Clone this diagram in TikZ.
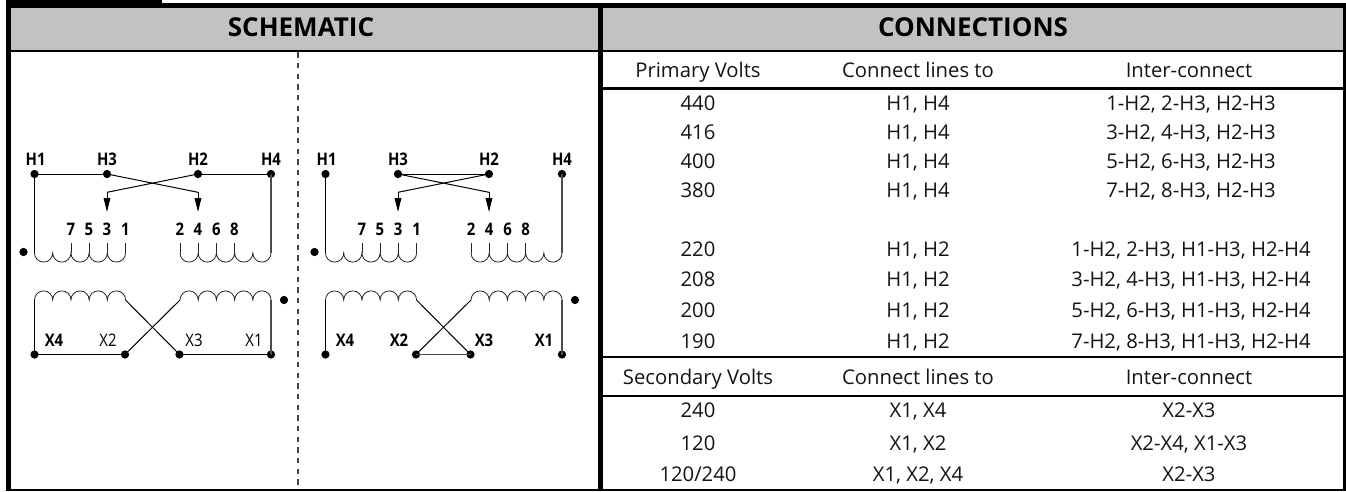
\documentclass[tikz,border=0pt]{standalone}
\usepackage{fontspec}
\setmainfont{Open Sans}
\newfontfamily\labfont[FakeStretch=0.86]{Open Sans}
\usetikzlibrary{arrows.meta}
\tikzset{
  wire/.style={line width=0.75pt,black},
  coil/.style={line width=0.6pt,black!85},
  feed/.style={wire,-{Triangle[length=10.5pt,width=5pt]}},
  term/.style={circle,fill=black,inner sep=0pt,minimum size=6.2pt},
  polarity/.style={circle,fill=black,inner sep=0pt,minimum size=6.2pt},
  lab/.style={anchor=base,inner sep=0pt,font=\fontsize{13}{13}\selectfont\labfont\bfseries},
  labr/.style={anchor=base,inner sep=0pt,font=\fontsize{13}{13}\selectfont\labfont},
  cell/.style={anchor=base,inner sep=0pt,font=\fontsize{15.2}{16}\selectfont,text=black!92},
  head/.style={anchor=base,inner sep=0pt,font=\fontsize{19.5}{20}\selectfont\bfseries},
  rule/.style={fill=black,draw=none},
}
\newcommand{\coilrun}[3]{% start x, y, end angle
  \draw[coil] (#1,#2) arc[start angle=180,end angle=#3,radius=6.83pt]
    arc[start angle=180,end angle=#3,radius=6.83pt]
    arc[start angle=180,end angle=#3,radius=6.83pt]
    arc[start angle=180,end angle=#3,radius=6.83pt]
    arc[start angle=180,end angle=#3,radius=6.83pt];}
\newcommand{\schemcommon}{%
  \node[term] (H1) at (34.5,174) {};
  \node[term] (H3) at (107,174) {};
  \node[term] (H2) at (198,174) {};
  \node[term] (H4) at (271,174) {};
  \node[lab] (lH1) at (35.7,165.5) {H1};
  \node[lab] (lH3) at (107,165.5) {H3};
  \node[lab] (lH2) at (198,165.5) {H2};
  \node[lab] (lH4) at (271,165.5) {H4};
  \coordinate (a3) at (107,192.3);
  \coordinate (a4) at (198,192.3);
  \coordinate (t3) at (107,212);
  \coordinate (t4) at (198,212);
  \draw[wire] (H3.center) -- (a4);
  \draw[wire] (H2.center) -- (a3);
  \draw[feed] (a3) -- (t3);
  \draw[feed] (a4) -- (t4);
  \foreach \t/\x in {7/71,5/89,3/107,1/125.5,2/180,4/198,6/216.5,8/234.5}
    \node[lab] (n\t) at (\x,235) {\t};
  \coilrun{34.5}{253}{360}
  \coilrun{180}{253}{360}
  \coordinate (k1) at (34.5,253);
  \coordinate (k4) at (271,253);
  \draw[wire] (H1.center) -- (k1);
  \draw[wire,line width=1pt,black!70] (H4.center) -- (k4);
  \foreach \x in {70.9,89.1,107.3,125.5,180,198.2,216.4,234.6}
    \draw[coil] (\x,243) -- (\x,253);
  \node[polarity] (pp) at (23.5,252) {};
  \coilrun{34.5}{300}{0}
  \coilrun{180}{300}{0}
  \node[polarity] (ps) at (284,300) {};
  \coordinate (s4) at (34.5,300);
  \coordinate (s2) at (125.5,300);
  \coordinate (s3) at (180,300);
  \coordinate (s1) at (271,300);
  \node[term] (X4) at (34.5,354.5) {};
  \node[term] (X2) at (125,354.5) {};
  \node[term] (X3) at (179.5,354.5) {};
  \node[term] (X1) at (271,354.5) {};
  \draw[wire] (s4) -- (X4.center);
  \draw[wire,line width=1pt,black!70] (s1) -- (X1.center);
  \draw[wire] (s2) -- (X3.center);
  \draw[wire] (s3) -- (X2.center);
}
\begin{document}
\begin{tikzpicture}[x=0.75pt,y=-0.75pt]
\useasboundingbox (0,0) rectangle (1346,492);
% frame and headers
\fill[black!24] (11,8) rectangle (1343,50);
\fill[rule] (6,0) rectangle (162,8);
\fill[rule] (6,3.5) rectangle (1346,8);
\fill[rule] (6,8) rectangle (11,491);
\fill[rule] (1343,8) rectangle (1346,491);
\fill[rule] (6,489) rectangle (1346,491);
\fill[rule] (11,50) rectangle (1343,52.5);
\fill[rule] (597.5,8) rectangle (602.5,491);
\fill[rule] (602.5,87.5) rectangle (1343,90);
\fill[rule] (602.5,355.5) rectangle (1343,358);
\fill[rule] (602.5,394.5) rectangle (1343,397);
\coordinate (dtop) at (297.7,52.5);
\coordinate (dbot) at (297.7,489);
\draw[line width=1.5pt,black!75,dash pattern=on 4pt off 4pt] (dtop) -- (dbot);
\node[head] (hS) at (301,37) {SCHEMATIC};
\node[head] (hC) at (973,37) {CONNECTIONS};
% first schematic
\begin{scope}[name prefix=A-]
  \schemcommon
  \draw[wire] (H1.center) -- (H3.center);
  \draw[wire] (H2.center) -- (H4.center);
  \draw[wire] (X4.center) -- (X2.center);
  \draw[wire] (X3.center) -- (X1.center);
  \node[lab]  (lX4) at (54,346) {X4};
  \node[labr] (lX2) at (108,346) {X2};
  \node[labr] (lX3) at (194,346) {X3};
  \node[labr] (lX1) at (254,346) {X1};
\end{scope}
% second schematic
\begin{scope}[shift={(291,0)},name prefix=B-]
  \schemcommon
  \draw[wire] (H3.center) -- (H2.center);
  \draw[wire,line width=1.2pt,black!70] (X2.center) -- (X3.center);
  \node[lab] (lX4) at (54,346) {X4};
  \node[lab] (lX2) at (108,346) {X2};
  \node[lab] (lX3) at (193,346) {X3};
  \node[lab] (lX1) at (253,346) {X1};
\end{scope}
% table
\foreach \n/\y/\a/\b/\xc/\c in {
  r0/78/Primary Volts/Connect lines to/1189/Inter-connect,
  r1/110.5/440/{H1, H4}/1191/{1-H2, 2-H3, H2-H3},
  r2/139.5/416/{H1, H4}/1191/{3-H2, 4-H3, H2-H3},
  r3/168.5/400/{H1, H4}/1191/{5-H2, 6-H3, H2-H3},
  r4/197.5/380/{H1, H4}/1191/{7-H2, 8-H3, H2-H3},
  r5/256/220/{H1, H2}/1191/{1-H2, 2-H3, H1-H3, H2-H4},
  r6/286.5/208/{H1, H2}/1191/{3-H2, 4-H3, H1-H3, H2-H4},
  r7/317.5/200/{H1, H2}/1191/{5-H2, 6-H3, H1-H3, H2-H4},
  r8/348.3/190/{H1, H2}/1191/{7-H2, 8-H3, H1-H3, H2-H4},
  r9/384/Secondary Volts/Connect lines to/1189/Inter-connect,
  r10/417/240/{X1, X4}/1189/X2-X3,
  r11/450/120/{X1, X2}/1189/{X2-X4, X1-X3},
  r12/481.7/120\slash 240/{X1, X2, X4}/1189/X2-X3}{
  \node[cell] (\n a) at (698,\y) {\a};
  \node[cell] (\n b) at (918,\y) {\b};
  \node[cell] (\n c) at (\xc,\y) {\c};
}
\end{tikzpicture}
\end{document}
